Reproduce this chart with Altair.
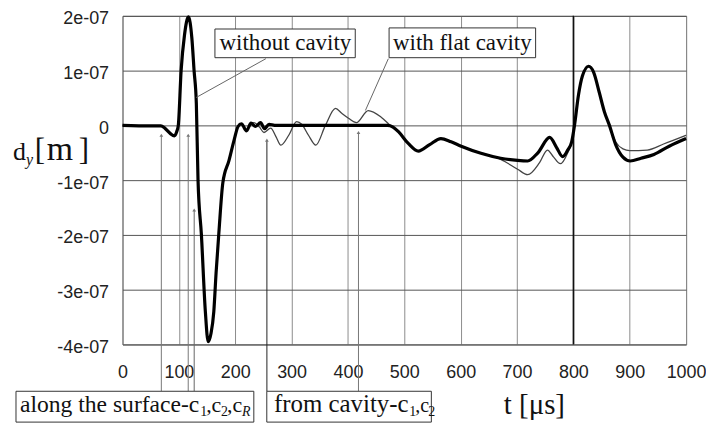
import altair as alt
import pandas as pd

# displacement values are in units of 1e-07 m
t_without = [0, 50, 68, 75, 85, 92, 96, 99, 104, 110, 117, 123, 127, 131, 134, 140, 147, 152, 157,
             162, 166, 171, 178, 189, 198, 205, 211, 220, 228, 236, 245, 252, 260, 270, 300, 400,
             470, 480, 490, 507, 525, 545, 565, 583, 601, 636, 671, 701, 719, 737, 758, 770, 781,
             790, 797, 802, 809, 816, 827, 836, 846, 855, 864, 875, 888, 901, 920, 943, 970, 1000]
dy_without = [0, -0.01, -0.01, -0.05, -0.15, -0.19, -0.12, 0.0, 1.0, 1.65, 1.98, 1.6, 1.0, 0.4, -1.0,
              -2.0, -3.4, -3.95, -3.8, -3.4, -2.7, -1.96, -1.05, -0.64, -0.27, -0.02, 0.03, -0.1,
              0.04, -0.02, 0.05, -0.06, 0.02, 0.0, 0.0, 0.0,
              0.0, -0.03, -0.12, -0.33, -0.47, -0.35, -0.24, -0.3, -0.38, -0.51, -0.6, -0.64, -0.65,
              -0.5, -0.22, -0.4, -0.57, -0.45, -0.3, 0.0, 0.55, 0.9, 1.08, 0.97, 0.6, 0.25, 0.0,
              -0.35, -0.58, -0.65, -0.6, -0.53, -0.38, -0.24]

t_with = [0, 50, 68, 75, 85, 92, 96, 99, 104, 110, 117, 123, 127, 131, 134, 140, 147, 152, 157,
          162, 166, 171, 178, 189, 198, 205, 211, 220, 228, 233, 243, 251, 263, 272, 281, 295, 309,
          318, 330, 343, 360, 378, 389, 401, 415, 436, 459, 475, 490, 507, 525, 545, 565, 583, 601,
          636, 671, 701, 719, 740, 754, 765, 777, 790, 797, 802, 809, 816, 827, 836, 846, 855, 864,
          875, 888, 900, 931, 960, 1000]
dy_with = [0, -0.01, -0.01, -0.05, -0.15, -0.19, -0.12, 0.0, 1.0, 1.65, 1.98, 1.6, 1.0, 0.4, -1.0,
           -2.0, -3.4, -3.95, -3.8, -3.4, -2.7, -1.96, -1.05, -0.64, -0.27, -0.02, 0.03, -0.1,
           0.04, 0.05, -0.03, -0.13, -0.05, -0.2, -0.36, -0.18, 0.07, 0.02, -0.18, -0.36, 0.0,
           0.31, 0.22, 0.13, 0.05, 0.27, 0.15, 0.0, -0.12, -0.33, -0.47, -0.35, -0.24, -0.3, -0.38,
           -0.51, -0.62, -0.8, -0.9, -0.68, -0.45, -0.58, -0.7, -0.5, -0.3, 0.0, 0.55, 0.9, 1.08,
           0.97, 0.6, 0.25, 0.0, -0.3, -0.43, -0.46, -0.45, -0.34, -0.18]

x_ticks = list(range(0, 1001, 100))
y_ticks = [-4, -3, -2, -1, 0, 1, 2]

# annotation boxes (data coordinates)
box_t1 = [164, 473, -189, 256]
box_t2 = [413, 733, 233, 548]
box_v1 = [1.76, 1.78, -4.855, -4.855]
box_v2 = [1.236, 1.236, -5.418, -5.418]

top_labels = ["without cavity", "with flat cavity"]
top_label_t = [289, 603]
top_label_v = [1.5, 1.5]

# arrows from the bottom boxes
arrow_t = [68.9, 116.6, 127.2, 256.2, 418.7]
arrow_top = [-0.18, -0.18, -1.545, -0.27, -0.13]
arrow_bottom = [-4.855, -4.855, -4.855, -4.855, -4.855]
arrow_color = ["#777", "#777", "#666", "#222", "#777"]

# leader lines of the top labels
lead_t1 = [254.4, 471.7]
lead_v1 = [1.218, 1.218]
lead_t2 = [130.7, 431.0]
lead_v2 = [0.509, 0.273]

# text pieces (upright serif)
txt = ["along the surface-c", ",c", ",c", "from cavity-c", ",c",
       "1", "2", "1", "2",
       "t [\u03bcs]", "d", "[", "m", "]"]
txt_t = [-182, 148.4, 185.5, 268.6, 519.4,
         137.8, 174.9, 508.8, 542.4,
         676.6, -194.3, -155.5, -134.3, -77.7]
txt_v = [-5.236, -5.236, -5.236, -5.236, -5.236,
         -5.31, -5.31, -5.31, -5.31,
         -5.27, -0.636, -0.636, -0.636, -0.636]
txt_size = [23.7, 22, 22, 25, 20,
            14, 14, 14, 14,
            29, 26, 31, 34, 31]

ital = ["R", "y"]
ital_t = [212, -171.4]
ital_v = [-5.31, -0.727]
ital_size = [14, 16]

xs = alt.Scale(domain=[0, 1000], nice=False, zero=False)
ys = alt.Scale(domain=[-4, 2], nice=False, zero=False)

x_axis = alt.Axis(values=x_ticks, title=None, ticks=False, labelPadding=19, labelFontSize=18,
                  labelFont="Liberation Sans", labelColor="#222", grid=True, gridColor="#8c8c8c",
                  gridWidth=1, domain=False, labelFlush=False, format="d")
y_axis = alt.Axis(values=y_ticks, title=None, ticks=False, labelPadding=14, labelFontSize=18,
                  labelFont="Liberation Sans", labelColor="#222", grid=True, gridColor="#555",
                  gridWidth=1, domain=False, labelOffset=3,
                  labelExpr="datum.value == 0 ? '0' : datum.value + 'e-07'")

df_wo = pd.DataFrame({"t": t_without, "dy": dy_without})
df_wi = pd.DataFrame({"t": t_with, "dy": dy_with})

X = lambda f: alt.X(f, type="quantitative", scale=xs, axis=x_axis)
Y = lambda f: alt.Y(f, type="quantitative", scale=ys, axis=y_axis)

rule800 = alt.Chart(pd.DataFrame({"t": [800]})).mark_rule(color="#111", strokeWidth=1.5).encode(
    x=X("t"))

line_wi = alt.Chart(df_wi).mark_line(color="#444", strokeWidth=1.3, interpolate="monotone").encode(
    x=X("t"), y=Y("dy"))
line_wo = alt.Chart(df_wo).mark_line(color="#000", strokeWidth=3.2, interpolate="monotone").encode(
    x=X("t"), y=Y("dy"))

boxes = alt.Chart(pd.DataFrame({"t1": box_t1, "t2": box_t2, "v1": box_v1, "v2": box_v2})).mark_rect(
    fill="white", stroke="#333", strokeWidth=1).encode(
    x=X("t1"), x2="t2", y=Y("v1"), y2="v2")

top_text = alt.Chart(pd.DataFrame({"t": top_label_t, "v": top_label_v, "s": top_labels})).mark_text(
    font="Liberation Serif", fontSize=23, align="center", baseline="middle", color="#111").encode(
    x=X("t"), y=Y("v"), text="s:N")

arrows = alt.Chart(pd.DataFrame({"t": arrow_t, "a": arrow_top, "b": arrow_bottom, "c": arrow_color})).mark_rule(
    strokeWidth=1).encode(
    x=X("t"), y=Y("a"), y2="b", color=alt.Color("c:N", scale=None))

heads = alt.Chart(pd.DataFrame({"t": arrow_t, "a": arrow_top})).mark_point(
    shape="triangle-up", filled=True, size=14, color="#777", opacity=1).encode(
    x=X("t"), y=Y("a"))

leads = alt.Chart(pd.DataFrame({"t1": lead_t1, "v1": lead_v1, "t2": lead_t2, "v2": lead_v2})).mark_rule(
    color="#666", strokeWidth=1).encode(
    x=X("t1"), x2="t2", y=Y("v1"), y2="v2")

texts = alt.Chart(pd.DataFrame({"t": txt_t, "v": txt_v, "s": txt, "z": txt_size})).mark_text(
    font="Liberation Serif", align="left", baseline="alphabetic", color="#111").encode(
    x=X("t"), y=Y("v"), text="s:N", size=alt.Size("z:Q", scale=None))

itexts = alt.Chart(pd.DataFrame({"t": ital_t, "v": ital_v, "s": ital, "z": ital_size})).mark_text(
    font="Liberation Serif", fontStyle="italic", align="left", baseline="alphabetic", color="#111").encode(
    x=X("t"), y=Y("v"), text="s:N", size=alt.Size("z:Q", scale=None))

chart = alt.layer(rule800, line_wi, line_wo, leads, arrows, heads, boxes, top_text, texts, itexts).properties(
    width=566, height=330,
    autosize=alt.AutoSizeParams(type="none"),
    padding={"left": 115, "top": 7, "right": 20, "bottom": 79},
    background="white",
).configure_view(stroke="#555", strokeWidth=1)

chart.save("out.html", embed_options={"renderer": "svg", "actions": False})
